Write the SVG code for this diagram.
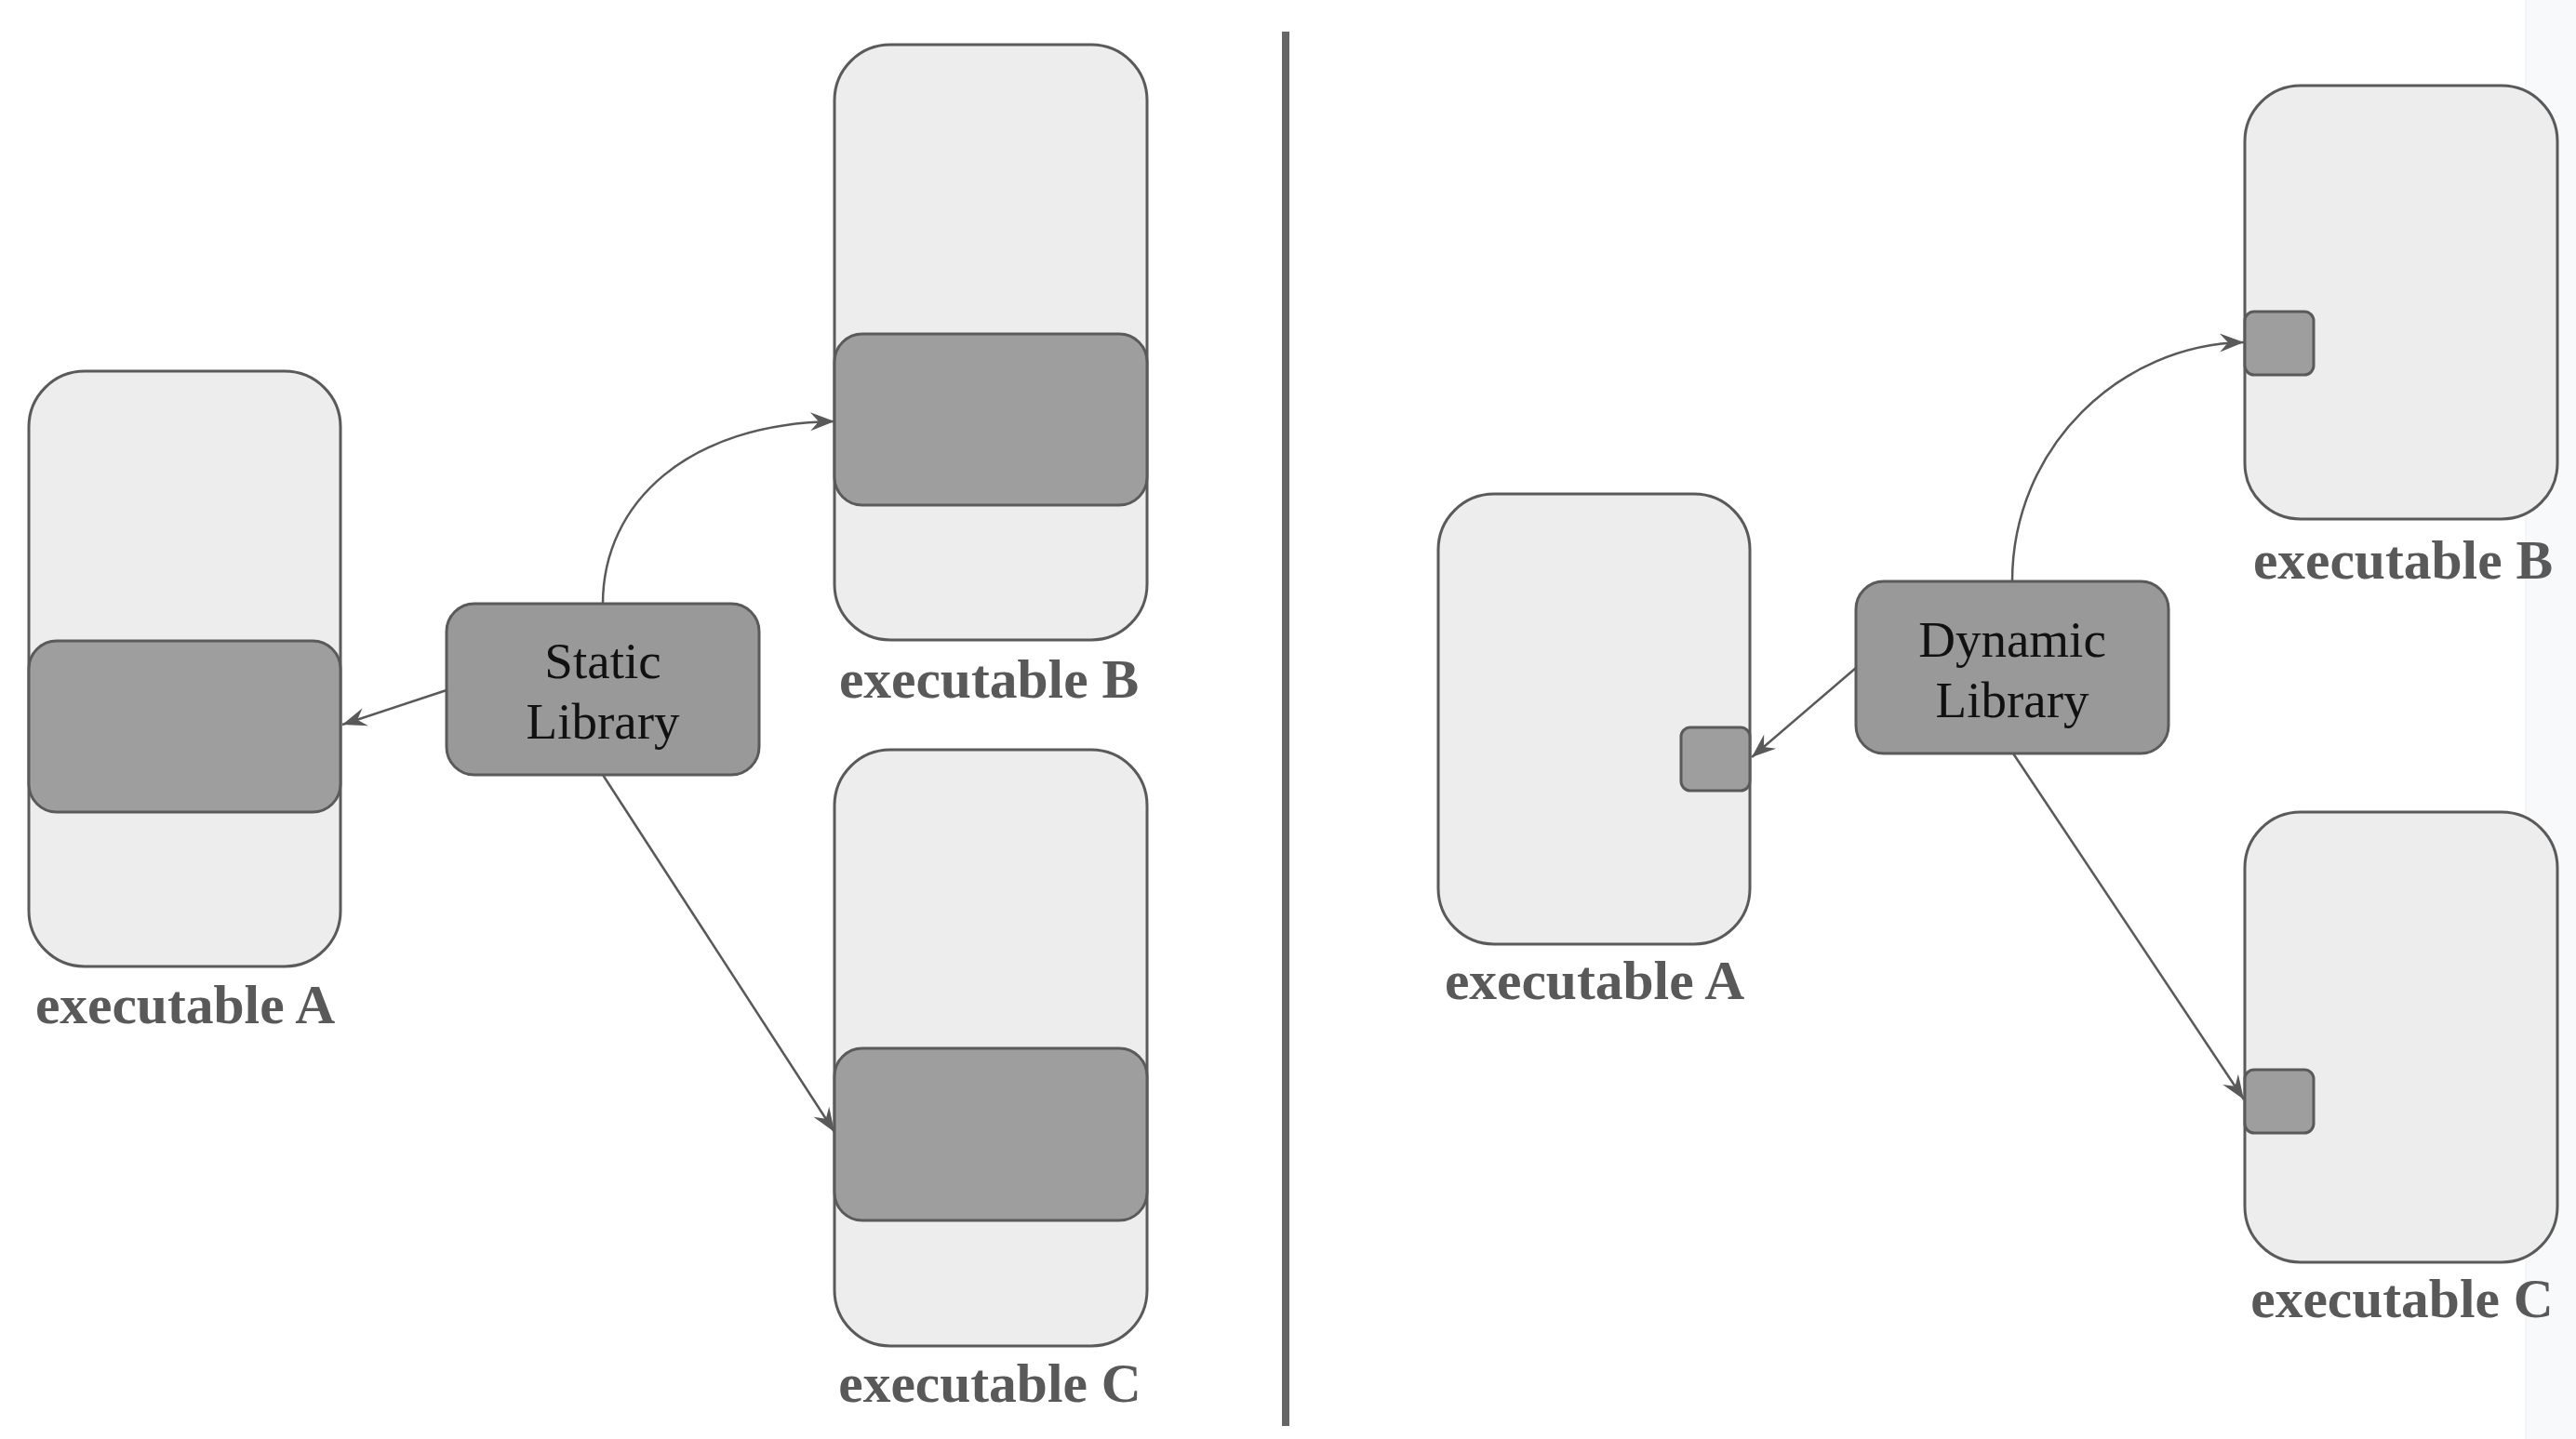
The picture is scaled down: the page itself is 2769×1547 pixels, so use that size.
<svg xmlns="http://www.w3.org/2000/svg" width="2769" height="1547" viewBox="0 0 2769 1547">
<style>
.exe{fill:#ededed;stroke:#5a5a5a;stroke-width:3}
.seg{fill:#9e9e9e;stroke:#5a5a5a;stroke-width:3}
.lib{fill:#999999;stroke:#5a5a5a;stroke-width:3}
.lbl{font-family:"Liberation Serif","Times New Roman",serif;font-weight:bold;font-size:59.5px;fill:#595959;text-anchor:middle}
.ltx{font-family:"Liberation Serif","Times New Roman",serif;font-size:55px;fill:#111111;text-anchor:middle}
.con{fill:none;stroke:#595959;stroke-width:2.5;marker-end:url(#arr)}
</style>
<defs>
<marker id="arr" markerUnits="userSpaceOnUse" markerWidth="40" markerHeight="30" viewBox="0 0 40 30" refX="28" refY="15" orient="auto">
<path d="M28,15 L2,5 L11,15 L2,25 Z" fill="#595959"/>
</marker>
</defs>
<rect x="0" y="0" width="2769" height="1547" fill="#ffffff"/>
<rect x="2715" y="0" width="54" height="1547" fill="#f8f9fa"/>
<line x1="2715" y1="0" x2="2715" y2="1547" stroke="#eef0f2" stroke-width="1"/>
<line id="divider" x1="1382" y1="34" x2="1382" y2="1533" stroke="#666666" stroke-width="8"/>

<g id="static-exe-a">
<rect class="exe" x="31" y="399" width="335" height="640" rx="60"/>
<rect class="seg" x="31" y="689" width="335" height="184" rx="30"/>
<text class="lbl" x="199" y="1100">executable A</text>
</g>
<g id="static-exe-b">
<rect class="exe" x="897" y="48" width="336" height="640" rx="60"/>
<rect class="seg" x="897" y="359" width="336" height="184" rx="30"/>
<text class="lbl" x="1063" y="750">executable B</text>
</g>
<g id="static-exe-c">
<rect class="exe" x="897" y="806" width="336" height="641" rx="60"/>
<rect class="seg" x="897" y="1127" width="336" height="185" rx="30"/>
<text class="lbl" x="1064" y="1507">executable C</text>
</g>
<g id="static-library">
<rect class="lib" x="480" y="649" width="336" height="184" rx="30"/>
<text class="ltx" x="648" y="729">Static</text>
<text class="ltx" x="648" y="794">Library</text>
</g>

<g id="dynamic-exe-a">
<rect class="exe" x="1546" y="531" width="335" height="484" rx="60"/>
<rect class="seg" x="1807" y="782" width="74" height="68" rx="10"/>
<text class="lbl" x="1714" y="1074">executable A</text>
</g>
<g id="dynamic-exe-b">
<rect class="exe" x="2413" y="92" width="336" height="466" rx="60"/>
<rect class="seg" x="2413" y="335" width="74" height="68" rx="10"/>
<text class="lbl" x="2583" y="622">executable B</text>
</g>
<g id="dynamic-exe-c">
<rect class="exe" x="2413" y="873" width="336" height="484" rx="60"/>
<rect class="seg" x="2413" y="1150" width="74" height="68" rx="10"/>
<text class="lbl" x="2582" y="1416">executable C</text>
</g>
<g id="dynamic-library">
<rect class="lib" x="1995" y="625" width="336" height="185" rx="30"/>
<text class="ltx" x="2163" y="706">Dynamic</text>
<text class="ltx" x="2163" y="771">Library</text>
</g>

<g id="connectors">
<path class="con" d="M480,742 L368,779"/>
<path class="con" d="M648,649 C648,540 740,455 897,453"/>
<path class="con" d="M648,833 L897,1217"/>
<path class="con" d="M1995,718 L1883,814"/>
<path class="con" d="M2163,625 C2163,480 2280,370 2412,368"/>
<path class="con" d="M2164,810 L2412,1182"/>
</g>
</svg>
